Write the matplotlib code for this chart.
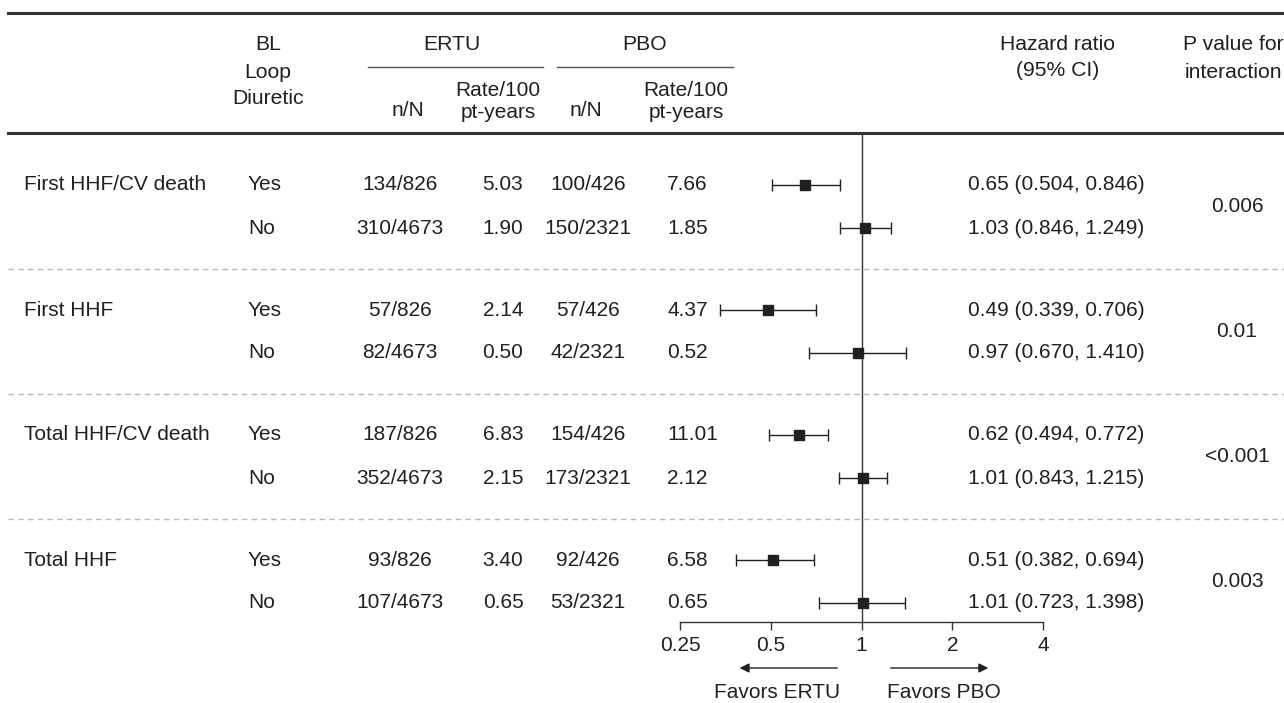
import matplotlib
matplotlib.use("Agg")
import matplotlib.pyplot as plt
from matplotlib.transforms import blended_transform_factory
import numpy as np

plt.rcParams['font.family'] = ['Liberation Sans', 'DejaVu Sans']

# ---------------- data ----------------
outcomes = ["First HHF/CV death", "First HHF", "Total HHF/CV death", "Total HHF"]
subgroups = ["Yes", "No"]
ertu_nN = [["134/826", "310/4673"], ["57/826", "82/4673"],
           ["187/826", "352/4673"], ["93/826", "107/4673"]]
ertu_rate = [["5.03", "1.90"], ["2.14", "0.50"], ["6.83", "2.15"], ["3.40", "0.65"]]
pbo_nN = [["100/426", "150/2321"], ["57/426", "42/2321"],
          ["154/426", "173/2321"], ["92/426", "53/2321"]]
pbo_rate = [["7.66", "1.85"], ["4.37", "0.52"], ["11.01", "2.12"], ["6.58", "0.65"]]
hr = [[0.65, 1.03], [0.49, 0.97], [0.62, 1.01], [0.51, 1.01]]
hr_lo = [[0.504, 0.846], [0.339, 0.670], [0.494, 0.843], [0.382, 0.723]]
hr_hi = [[0.846, 1.249], [0.706, 1.410], [0.772, 1.215], [0.694, 1.398]]
p_int = ["0.006", "0.01", "<0.001", "0.003"]
xticks = [0.25, 0.5, 1, 2, 4]
xticklabels = ["0.25", "0.5", "1", "2", "4"]

# ---------------- layout ----------------
W, H = 1284, 703
TXT = "#231f20"
FS = 15
HFS = 15.2
fig = plt.figure(figsize=(W / 100, H / 100), dpi=100)

ax_l, ax_r, ax_t, ax_b = 680, 1043, 133, 622
ax = fig.add_axes([ax_l / W, 1 - ax_b / H, (ax_r - ax_l) / W, (ax_b - ax_t) / H])
ax.set_xscale("log")
ax.set_xlim(0.25, 4)
group_step = 125 / 43.0
top_off = (185 - 133) / 43.0
ax.set_ylim(-top_off + (ax_b - ax_t) / 43.0, -top_off)

def fx(px):
    return px / W

def fy(py):
    return 1 - py / H

tr = blended_transform_factory(fig.transFigure, ax.transData)

for g, name in enumerate(outcomes):
    for k, sg in enumerate(subgroups):
        y = g * group_step + k
        if k == 0:
            ax.text(fx(24), y, name, transform=tr, ha="left", va="center",
                    fontsize=FS, color=TXT, clip_on=False)
        ax.text(fx(248), y, sg, transform=tr, ha="left", va="center", fontsize=FS, color=TXT)
        ax.text(fx(400), y, ertu_nN[g][k], transform=tr, ha="center", va="center", fontsize=FS, color=TXT)
        ax.text(fx(503), y, ertu_rate[g][k], transform=tr, ha="center", va="center", fontsize=FS, color=TXT)
        ax.text(fx(588), y, pbo_nN[g][k], transform=tr, ha="center", va="center", fontsize=FS, color=TXT)
        ax.text(fx(667), y, pbo_rate[g][k], transform=tr, ha="left", va="center", fontsize=FS, color=TXT)
        ax.text(fx(1056), y, f"{hr[g][k]:.2f} ({hr_lo[g][k]:.3f}, {hr_hi[g][k]:.3f})",
                transform=tr, ha="center", va="center", fontsize=FS, color=TXT)
        lo = hr[g][k] - hr_lo[g][k]
        hi = hr_hi[g][k] - hr[g][k]
        ax.errorbar([hr[g][k]], [y], xerr=[[lo], [hi]], fmt="s", color=TXT,
                    ms=7.5, capsize=4, elinewidth=1, capthick=1, clip_on=False, zorder=3)
    ax.text(fx(1237), g * group_step + 0.5, p_int[g], transform=tr, ha="center",
            va="center", fontsize=FS, color=TXT)
    if g < len(outcomes) - 1:
        ysep = g * group_step + 1 + (group_step - 1) / 2
        ax.plot([fx(8), 1.0], [ysep, ysep], transform=tr, color="#b8b8b8",
                lw=1, ls=(0, (4, 3)), clip_on=False)

ax.axvline(1, color="#333333", lw=1, zorder=2)

for s in ["top", "right", "left"]:
    ax.spines[s].set_visible(False)
ax.spines["bottom"].set_color("#333333")
ax.spines["bottom"].set_linewidth(1)
ax.set_yticks([])
ax.set_xticks(xticks)
ax.set_xticklabels(xticklabels)
ax.xaxis.set_minor_locator(matplotlib.ticker.NullLocator())
ax.tick_params(axis="x", direction="out", length=6, width=1, color="#333333",
               labelsize=FS, labelcolor=TXT, pad=4)
ax.patch.set_alpha(0)

# arrows
tra = blended_transform_factory(ax.transData, fig.transFigure)
ax.annotate("", xy=(0.386, fy(668)), xytext=(0.848, fy(668)), xycoords=tra, textcoords=tra,
            arrowprops=dict(arrowstyle="-|>", color=TXT, lw=1, mutation_scale=14))
ax.annotate("", xy=(2.69, fy(668)), xytext=(1.224, fy(668)), xycoords=tra, textcoords=tra,
            arrowprops=dict(arrowstyle="-|>", color=TXT, lw=1, mutation_scale=14))
fig.text(fx(777), fy(693), "Favors ERTU", ha="center", va="center", fontsize=FS, color=TXT)
fig.text(fx(944), fy(693), "Favors PBO", ha="center", va="center", fontsize=FS, color=TXT)

# header rules
fig.add_artist(plt.Line2D([fx(8), 1], [fy(13), fy(13)], color="#333333", lw=2.2))
fig.add_artist(plt.Line2D([fx(8), 1], [fy(133), fy(133)], color="#333333", lw=2.2))
fig.add_artist(plt.Line2D([fx(368), fx(543)], [fy(67), fy(67)], color="#555555", lw=1))
fig.add_artist(plt.Line2D([fx(557), fx(733)], [fy(67), fy(67)], color="#555555", lw=1))

hdr = [
    (268, 44, "BL", HFS), (268, 72, "Loop", HFS), (268, 98, "Diuretic", HFS),
    (452, 44, "ERTU", HFS), (645, 44, "PBO", HFS),
    (408, 110, "n/N", FS), (498, 90, "Rate/100", FS), (498, 113, "pt-years", FS),
    (586, 110, "n/N", FS), (686, 90, "Rate/100", FS), (686, 113, "pt-years", FS),
    (1058, 44, "Hazard ratio", HFS), (1058, 70, "(95% CI)", HFS),
    (1233, 44, "P value for", HFS), (1233, 72, "interaction", HFS),
]
for px, py, s, fs in hdr:
    fig.text(fx(px), fy(py), s, ha="center", va="center", fontsize=fs, color=TXT)

fig.savefig("out.png", dpi=100, facecolor="white")
